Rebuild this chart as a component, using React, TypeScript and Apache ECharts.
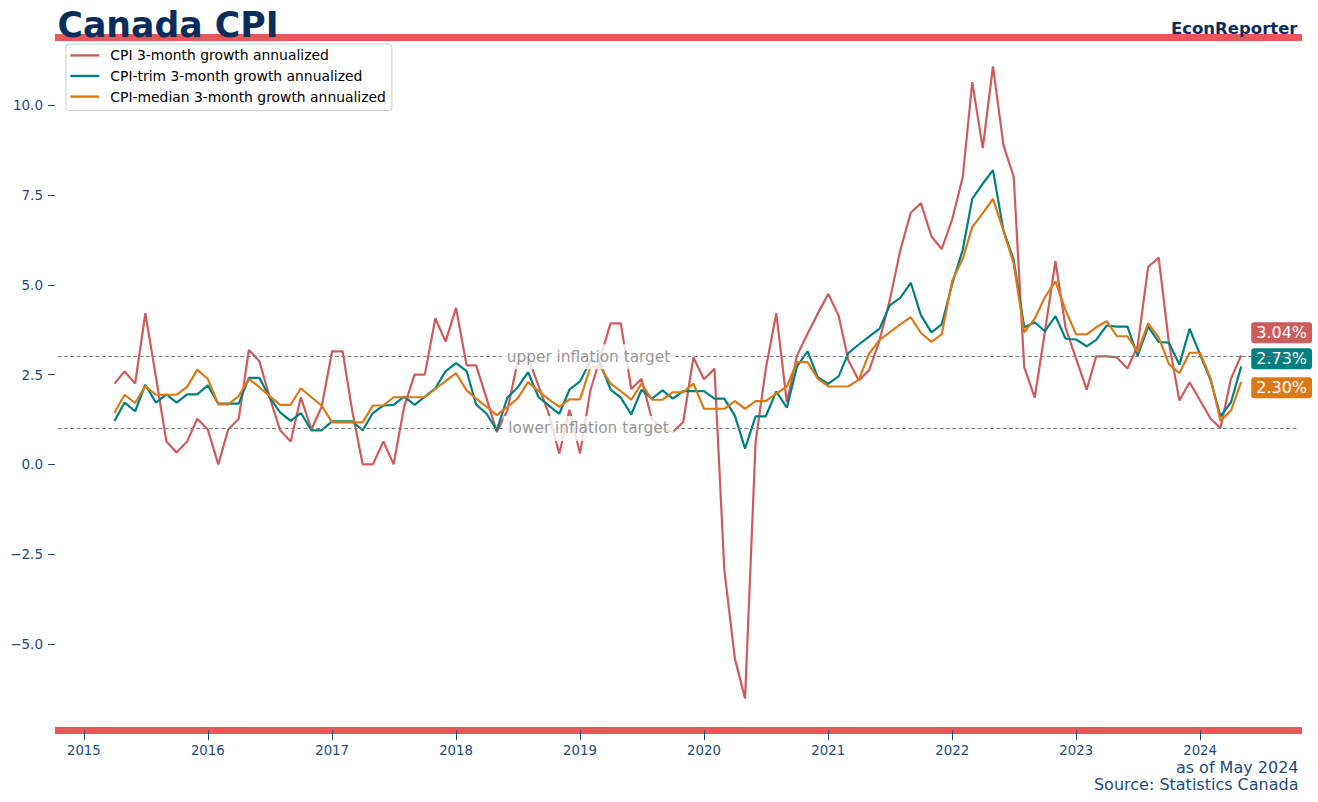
import React, { useEffect, useRef } from 'react';
import * as echarts from 'echarts';

// ---------- data ----------
const START_YEAR = 2015;
const START_MONTH = 4; // April 2015, monthly observations

const seriesNames = [
  'CPI 3-month growth annualized',
  'CPI-trim 3-month growth annualized',
  'CPI-median 3-month growth annualized',
];

const cpi = [
  2.25, 2.59, 2.25, 4.21, 2.45, 0.64, 0.33, 0.64, 1.27,
  0.97, 0.0, 0.97, 1.27, 3.19, 2.87, 1.87, 0.95, 0.64, 1.87, 0.97, 1.6,
  3.15, 3.15, 1.5, 0.0, 0.0, 0.64, 0.0, 1.6, 2.5, 2.5, 4.07, 3.42,
  4.36, 2.76, 2.76, 1.83, 0.9, 1.5, 2.85, 2.98, 2.18, 1.41, 0.3, 1.52,
  0.3, 2.08, 2.95, 3.93, 3.93, 2.1, 2.38, 1.25, 1.0, 0.9, 1.18, 2.98,
  2.37, 2.66, -2.95, -5.41, -6.52, 0.62, 2.66, 4.21, 1.73, 3.03, 3.64, 4.2,
  4.75, 4.13, 2.9, 2.34, 2.62, 3.45, 4.57, 5.96, 7.01, 7.28, 6.35, 6.0,
  6.83, 8.0, 10.65, 8.81, 11.09, 8.89, 8.02, 2.71, 1.86, 3.7, 5.66, 3.8,
  2.94, 2.08, 3.01, 3.01, 2.98, 2.67, 3.3, 5.5, 5.76, 3.4, 1.78, 2.29,
  1.78, 1.27, 1.01, 2.39, 3.04,
];

const trim = [
  1.21, 1.72, 1.48, 2.22, 1.72, 1.95, 1.72, 1.95, 1.95,
  2.2, 1.69, 1.69, 1.69, 2.41, 2.41, 1.87, 1.45, 1.21, 1.43, 0.95, 0.95,
  1.2, 1.2, 1.2, 0.95, 1.43, 1.64, 1.66, 1.89, 1.66, 1.89, 2.12, 2.59,
  2.82, 2.6, 1.67, 1.41, 0.95, 1.86, 2.14, 2.57, 1.87, 1.64, 1.41, 2.08,
  2.31, 2.89, 2.83, 2.08, 1.86, 1.39, 2.08, 1.83, 2.06, 1.83, 2.04, 2.04,
  2.04, 1.83, 1.83, 1.36, 0.44, 1.34, 1.34, 2.03, 1.58, 2.73, 3.15, 2.43,
  2.24, 2.46, 3.1, 3.34, 3.56, 3.78, 4.43, 4.64, 5.06, 4.15, 3.68, 3.9,
  5.03, 5.98, 7.4, 7.82, 8.2, 6.51, 5.7, 3.82, 3.96, 3.71, 4.13, 3.5,
  3.48, 3.29, 3.47, 3.87, 3.84, 3.84, 3.03, 3.84, 3.41, 3.39, 2.78, 3.78,
  3.06, 2.34, 1.34, 1.73, 2.73,
];

const median = [
  1.44, 1.94, 1.71, 2.18, 1.94, 1.94, 1.94, 2.16, 2.64,
  2.38, 1.67, 1.67, 1.9, 2.38, 2.15, 1.9, 1.66, 1.66, 2.12, 1.87, 1.64,
  1.17, 1.17, 1.17, 1.17, 1.64, 1.64, 1.87, 1.87, 1.87, 1.87, 2.1, 2.32,
  2.54, 2.06, 1.83, 1.6, 1.37, 1.6, 1.83, 2.29, 2.04, 1.81, 1.6, 1.81,
  1.81, 2.72, 2.72, 2.25, 2.04, 1.8, 2.25, 1.8, 1.8, 2.01, 2.01, 2.25,
  1.55, 1.55, 1.55, 1.76, 1.55, 1.76, 1.76, 1.97, 2.17, 2.85, 2.85, 2.39,
  2.17, 2.17, 2.17, 2.36, 3.08, 3.47, 3.68, 3.9, 4.1, 3.66, 3.41, 3.62,
  5.12, 5.73, 6.61, 7.0, 7.4, 6.51, 5.59, 3.68, 4.06, 4.66, 5.1, 4.29,
  3.62, 3.62, 3.82, 3.99, 3.57, 3.57, 3.13, 3.93, 3.54, 2.8, 2.54, 3.11,
  3.11, 2.39, 1.21, 1.5, 2.3,
];

const yearTicks = [2015, 2016, 2017, 2018, 2019, 2020, 2021, 2022, 2023, 2024];
const yTicks = [-5, -2.5, 0, 2.5, 5, 7.5, 10];
const targetNames = ['upper inflation target', 'lower inflation target'];
const targetValues = [3, 1];

// ---------- style ----------
const FONT = '"DejaVu Sans", "Noto Sans", sans-serif';
const colors = ['#cd5c5c', '#008080', '#da7a17'];
const endLabelDy = [-22.5, -7.6, 5.8];
const BAR = '#e8575a';
const NAVY = '#0b2d5b';
const AXIS_TEXT = '#1f4b7d';

const ts = (y: number, m: number, d: number) => new Date(y, m - 1, d).getTime();
const monthTs = (i: number) => {
  const m0 = START_MONTH - 1 + i;
  return ts(START_YEAR + Math.floor(m0 / 12), (m0 % 12) + 1, 1);
};

const X_MIN = ts(2014, 10, 8);
const X_MAX = ts(2024, 10, 27);
const LINE_START = ts(2014, 10, 16);
const LINE_END = ts(2024, 10, 16);
const TARGET_LABEL_X = ts(2019, 1, 26);

const fmtY = (v: number) => (v < 0 ? '\u2212' + Math.abs(v).toFixed(1) : v.toFixed(1));

export default function App() {
  const ref = useRef<HTMLDivElement>(null);

  useEffect(() => {
    if (!ref.current) return;
    const chart = echarts.init(ref.current, undefined, { renderer: 'svg' });
    const values = [cpi, trim, median];
    const yearTs = yearTicks.map((y) => ts(y, 1, 1));

    const lineSeries = seriesNames.map((name, k) => ({
      name,
      type: 'line',
      xAxisIndex: 0,
      yAxisIndex: 0,
      data: values[k].map((v, i) => [monthTs(i), v]),
      symbol: 'none',
      showSymbol: false,
      z: 3 + k,
      lineStyle: { color: colors[k], width: 2.2 },
      itemStyle: { color: colors[k] },
      emphasis: { disabled: true },
      endLabel: {
        show: true,
        formatter: (p: any) => Number(p.value[1]).toFixed(2) + '%',
        color: '#ffffff',
        backgroundColor: colors[k],
        borderRadius: 3,
        padding: [3, 5, 2, 5],
        fontSize: 16,
        fontFamily: FONT,
        distance: 10,
        offset: [0, endLabelDy[k]],
      },
    }));

    const option: any = {
      animation: false,
      textStyle: { fontFamily: FONT },
      grid: {
        left: 55,
        right: 16,
        top: 37.3,
        bottom: 71.7,
        containLabel: false,
        outerBoundsMode: 'none',
      },
      xAxis: [
        {
          type: 'value',
          position: 'bottom',
          min: X_MIN,
          max: X_MAX,
          axisLine: { show: true, onZero: false, lineStyle: { color: BAR, width: 7, cap: 'butt' } },
          axisTick: {
            show: true,
            length: 10,
            customValues: yearTs,
            lineStyle: { color: AXIS_TEXT, width: 1 },
          },
          axisLabel: {
            show: true,
            customValues: yearTs,
            formatter: (v: number) => String(new Date(v).getFullYear()),
            color: AXIS_TEXT,
            fontSize: 13.3,
            lineHeight: 13,
            fontFamily: FONT,
            margin: 14,
            hideOverlap: false,
          },
          splitLine: { show: false },
        },
        {
          type: 'value',
          position: 'top',
          min: 0,
          max: 1,
          axisLine: { show: true, onZero: false, lineStyle: { color: BAR, width: 7, cap: 'butt' } },
          axisTick: { show: false },
          axisLabel: { show: false },
          splitLine: { show: false },
        },
      ],
      yAxis: {
        type: 'value',
        min: -7.41,
        max: 11.9,
        axisLine: { show: false, onZero: false },
        axisTick: {
          show: true,
          length: 7,
          customValues: yTicks,
          lineStyle: { color: AXIS_TEXT, width: 1 },
        },
        axisLabel: {
          show: true,
          customValues: yTicks,
          formatter: fmtY,
          color: AXIS_TEXT,
          fontSize: 13.5,
          fontFamily: FONT,
          margin: 12,
        },
        splitLine: { show: false },
      },
      legend: {
        show: true,
        orient: 'vertical',
        left: 66,
        top: 44,
        data: seriesNames,
        icon: 'rect',
        itemWidth: 29,
        itemHeight: 2.4,
        itemGap: 6.6,
        padding: [4.4, 6, 7, 4.3],
        backgroundColor: '#ffffff',
        borderColor: '#cccccc',
        borderWidth: 1,
        borderRadius: 3,
        selectedMode: false,
        textStyle: { color: '#000000', fontSize: 13.9, lineHeight: 14, fontFamily: FONT, padding: [0, 0, 0, 6] },
      },
      graphic: [
        {
          type: 'text',
          x: 57.5,
          y: 25.3,
          z: 100,
          style: {
            text: 'Canada CPI',
            font: `bold 34.7px ${FONT}`,
            fill: NAVY,
            align: 'left',
            verticalAlign: 'middle',
          },
        },
        {
          type: 'text',
          x: 1297.5,
          y: 28.3,
          z: 100,
          style: {
            text: 'EconReporter',
            font: `bold 16.5px ${FONT}`,
            fill: NAVY,
            align: 'right',
            verticalAlign: 'middle',
          },
        },
        {
          type: 'text',
          x: 1298.5,
          y: 767.6,
          z: 100,
          style: {
            text: 'as of May 2024',
            font: `16px ${FONT}`,
            lineHeight: 15,
            fill: AXIS_TEXT,
            align: 'right',
            verticalAlign: 'middle',
          },
        },
        {
          type: 'text',
          x: 1298.5,
          y: 784.4,
          z: 100,
          style: {
            text: 'Source: Statistics Canada',
            font: `16px ${FONT}`,
            lineHeight: 15,
            fill: AXIS_TEXT,
            align: 'right',
            verticalAlign: 'middle',
          },
        },
      ],
      series: [
        {
          name: 'target-lines',
          type: 'line',
          data: [],
          z: 1,
          silent: true,
          markLine: {
            silent: true,
            symbol: 'none',
            label: { show: false },
            lineStyle: { color: '#7f7f7f', type: [4, 2.3], width: 1 },
            emphasis: { disabled: true },
            data: targetValues.map((v) => [
              { coord: [LINE_START, v] },
              { coord: [LINE_END, v] },
            ]),
          },
        },
        ...lineSeries,
        {
          name: 'target-labels',
          type: 'scatter',
          z: 10,
          silent: true,
          symbolSize: 0,
          data: targetNames.map((n, i) => ({ name: n, value: [TARGET_LABEL_X, targetValues[i]] })),
          label: {
            show: true,
            position: 'inside',
            formatter: '{b}',
            color: '#7a7a7a',
            fontSize: 15.3,
            lineHeight: 16,
            fontFamily: FONT,
            backgroundColor: '#ffffff',
            padding: [4.5, 5, 4.5, 5],
          },
          emphasis: { disabled: true },
        },
      ],
    };

    chart.setOption(option);
    return () => chart.dispose();
  }, []);

  return (
    <div
      ref={ref}
      style={{ position: 'fixed', left: 0, top: 0, width: 1318, height: 802, background: '#ffffff' }}
    />
  );
}
